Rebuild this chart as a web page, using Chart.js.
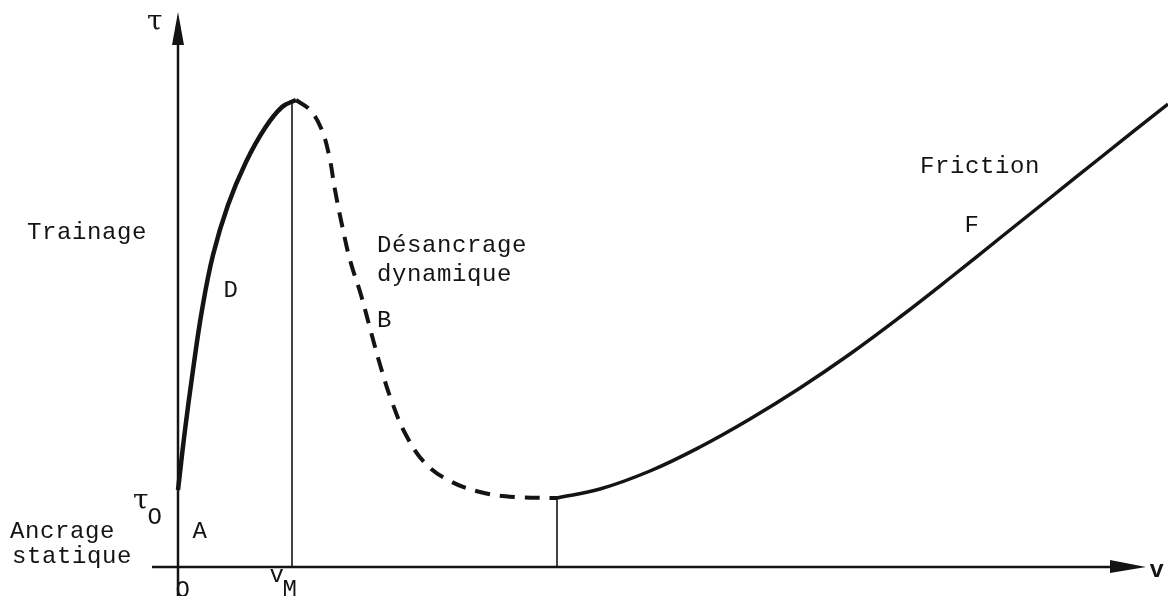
<!DOCTYPE html>
<html>
<head>
<meta charset="utf-8">
<script src="https://cdn.jsdelivr.net/npm/chart.js@4/dist/chart.umd.min.js"></script>
<style>
  html, body { margin: 0; padding: 0; background: #fff; }
  #wrap { width: 1168px; height: 596px; }
</style>
</head>
<body>
<div id="wrap"><canvas id="tauChart" width="1168" height="596"></canvas></div>
<script>
// curve D (trainage, solid) : v, tau
var dragV   = [0, 0.07, 0.15, 0.24, 0.35, 0.50, 0.68, 0.87, 1.04, 1.18];
var dragTau = [0.77, 1.37, 1.97, 2.57, 3.12, 3.62, 4.05, 4.39, 4.60, 4.67];

// curve B (desancrage dynamique, dashed)
var unpinV   = [1.18, 1.32, 1.43, 1.51, 1.57, 1.64, 1.72, 1.83, 1.93, 2.03, 2.14, 2.28, 2.47, 2.72, 3.02, 3.37, 3.79];
var unpinTau = [4.67, 4.57, 4.39, 4.12, 3.77, 3.42, 3.07, 2.72, 2.35, 1.99, 1.65, 1.32, 1.04, 0.86, 0.75, 0.70, 0.69];

// curve F (friction, solid)
var frictionV   = [3.79, 4.22, 4.72, 5.22, 5.72, 6.22, 6.72, 7.22, 7.72, 8.22, 8.72, 9.22, 9.90];
var frictionTau = [0.69, 0.78, 0.96, 1.20, 1.48, 1.79, 2.13, 2.50, 2.89, 3.29, 3.69, 4.09, 4.63];

// special points
var vM = 1.14, tauM = 4.67;
var vMin = 3.79, tauMin = 0.69;

// axis extent
var vAxisStart = -0.26, vAxisEnd = 9.32, vArrowTip = 9.68;
var tauAxisStart = -0.29, tauAxisEnd = 5.22, tauArrowTip = 5.55;

// text labels [text, v, tau, align, font]
var mono = '24px "Liberation Mono", "DejaVu Sans Mono", monospace';
var serif = '28px "DejaVu Serif", "Liberation Serif", serif';
var labels = [
  ['τ', -0.23, 5.44, 'center', serif],
  ['Trainage', -1.51, 3.34, 'left', mono],
  ['D', 0.53, 2.76, 'center', mono],
  ['Désancrage', 1.99, 3.21, 'left', mono],
  ['dynamique', 1.99, 2.92, 'left', mono],
  ['B', 1.99, 2.46, 'left', mono],
  ['Friction', 7.42, 4.00, 'left', mono],
  ['F', 7.94, 3.41, 'center', mono],
  ['τ', -0.37, 0.65, 'center', serif],
  ['O', -0.23, 0.49, 'center', mono],
  ['A', 0.22, 0.35, 'center', mono],
  ['Ancrage', -1.68, 0.35, 'left', mono],
  ['statique', -1.66, 0.10, 'left', mono],
  ['O', 0.05, -0.24, 'center', mono],
  ['v', 0.99, -0.09, 'center', mono],
  ['M', 1.12, -0.23, 'center', mono],
  ['v', 9.79, -0.04, 'center', 'bold ' + mono]
];

function pts(xs, ys) {
  return xs.map(function (x, i) { return { x: x, y: ys[i] }; });
}

var ink = '#141414';

var sketchPlugin = {
  id: 'sketch',
  afterDatasetsDraw: function (chart) {
    var ctx = chart.ctx, sx = chart.scales.x, sy = chart.scales.y;
    ctx.save();
    ctx.fillStyle = ink;
    // arrow on tau axis
    var x0 = sx.getPixelForValue(0);
    var tipY = sy.getPixelForValue(tauArrowTip), baseY = sy.getPixelForValue(tauAxisEnd);
    ctx.beginPath();
    ctx.moveTo(x0, tipY);
    ctx.lineTo(x0 + 6, baseY);
    ctx.lineTo(x0 - 6, baseY);
    ctx.closePath();
    ctx.fill();
    // arrow on v axis
    var y0 = sy.getPixelForValue(0);
    var tipX = sx.getPixelForValue(vArrowTip), baseX = sx.getPixelForValue(vAxisEnd);
    ctx.beginPath();
    ctx.moveTo(tipX, y0);
    ctx.lineTo(baseX, y0 - 7);
    ctx.lineTo(baseX, y0 + 6);
    ctx.closePath();
    ctx.fill();
    // text
    ctx.letterSpacing = '0.6px';
    ctx.textBaseline = 'middle';
    labels.forEach(function (l) {
      ctx.font = l[4];
      ctx.textAlign = l[3];
      ctx.fillText(l[0], sx.getPixelForValue(l[1]), sy.getPixelForValue(l[2]));
    });
    ctx.restore();
  }
};

new Chart(document.getElementById('tauChart'), {
  type: 'line',
  data: {
    datasets: [
      { label: 'axe v', data: pts([vAxisStart, vAxisEnd], [0, 0]), borderColor: ink, borderWidth: 2.5, tension: 0 },
      { label: 'axe tau', data: pts([0, 0], [tauAxisStart, tauAxisEnd]), borderColor: ink, borderWidth: 2.5, tension: 0 },
      { label: 'vM', data: pts([vM, vM], [0, tauM]), borderColor: ink, borderWidth: 1.6, tension: 0 },
      { label: 'vmin', data: pts([vMin, vMin], [0, tauMin]), borderColor: ink, borderWidth: 1.6, tension: 0 },
      { label: 'D', data: pts(dragV, dragTau), borderColor: ink, borderWidth: 4.5, tension: 0.4 },
      { label: 'B', data: pts(unpinV, unpinTau), borderColor: ink, borderWidth: 4, borderDash: [15, 10], tension: 0.4 },
      { label: 'F', data: pts(frictionV, frictionTau), borderColor: ink, borderWidth: 3.5, tension: 0.4 }
    ]
  },
  options: {
    responsive: false,
    animation: false,
    layout: { padding: 0 },
    elements: { point: { radius: 0 }, line: { borderCapStyle: 'butt' } },
    plugins: { legend: { display: false }, tooltip: { enabled: false }, title: { display: false } },
    scales: {
      x: { type: 'linear', min: -1.78, max: 9.90, display: false },
      y: { type: 'linear', min: -0.29, max: 5.67, display: false }
    }
  },
  plugins: [sketchPlugin]
});
</script>
</body>
</html>
